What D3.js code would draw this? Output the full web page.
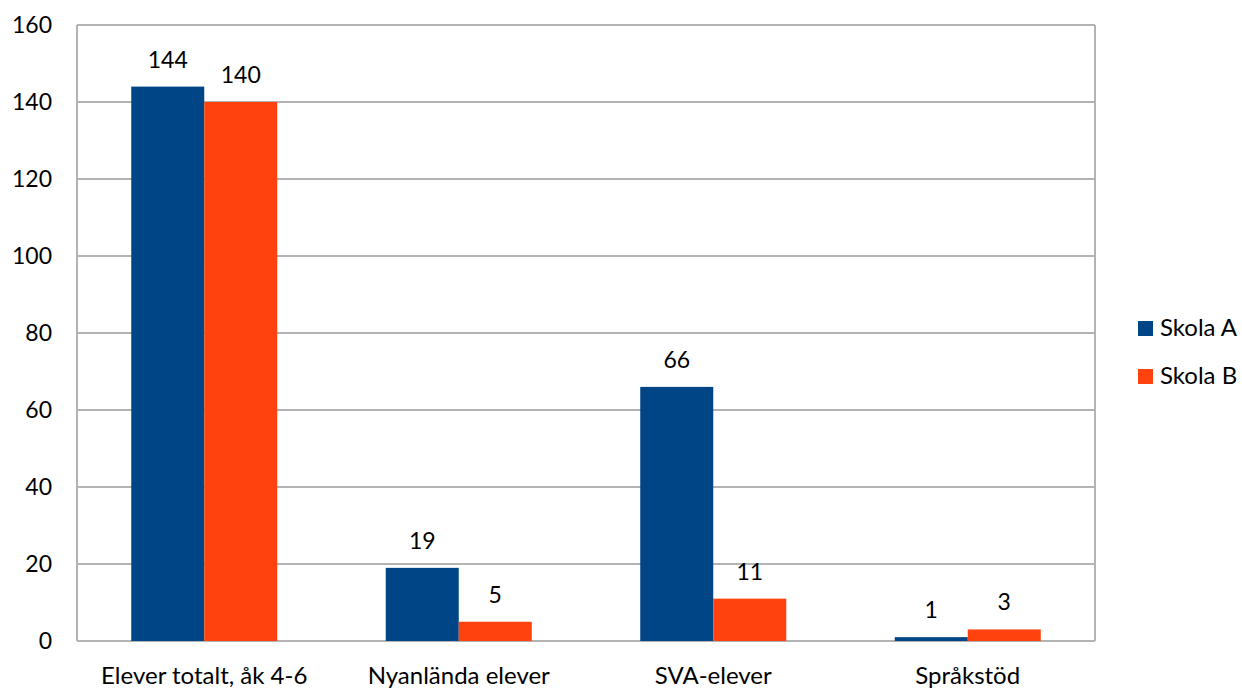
<!DOCTYPE html>
<html>
<head>
<meta charset="utf-8">
<script src="https://cdn.jsdelivr.net/npm/d3@7"></script>
<style>
  body { margin: 0; background: #fff; }
  text { font-family: Lato, "Open Sans", sans-serif; fill: #000; }
</style>
</head>
<body>
<svg id="chart" width="1242" height="688"></svg>
<script>
// Data
const categories = ["Elever totalt, åk 4-6", "Nyanlända elever", "SVA-elever", "Språkstöd"];
const series = ["Skola A", "Skola B"];
const skolaA = [144, 19, 66, 1];
const skolaB = [140, 5, 11, 3];
const yTicks = [0, 20, 40, 60, 80, 100, 120, 140, 160];
const colors = ["#004586", "#ff420e"];

const plot = {left: 77, right: 1095, top: 25, bottom: 641};
const FONT = "24px";
const NUM_FONT = "23px";

const svg = d3.select("#chart");

let x = d3.scaleBand()
    .domain(categories)
    .range([plot.left, plot.right])
    .paddingInner(0)
    .paddingOuter(0);
let xInner = d3.scaleBand()
    .domain(series)
    .range([0, x.bandwidth()])
    .paddingOuter(0.743)
    .paddingInner(0);
let y = d3.scaleLinear()
    .domain([0, 160])
    .range([plot.bottom, plot.top]);

// Gridlines
svg.append("g")
    .selectAll("line")
    .data(yTicks)
    .enter()
    .append("line")
    .attr("x1", plot.left)
    .attr("x2", plot.right)
    .attr("y1", d => y(d))
    .attr("y2", d => y(d))
    .attr("stroke", "#b3b3b3")
    .attr("stroke-width", 2);

// Plot frame sides
svg.append("line")
    .attr("x1", plot.left).attr("x2", plot.left)
    .attr("y1", plot.top).attr("y2", plot.bottom)
    .attr("stroke", "#b3b3b3").attr("stroke-width", 2);
svg.append("line")
    .attr("x1", plot.right).attr("x2", plot.right)
    .attr("y1", plot.top).attr("y2", plot.bottom)
    .attr("stroke", "#b3b3b3").attr("stroke-width", 2);

// Y tick labels
svg.append("g")
    .selectAll("text")
    .data(yTicks)
    .enter()
    .append("text")
    .attr("x", 52)
    .attr("y", d => y(d) + 8)
    .style("text-anchor", "end")
    .style("font-size", NUM_FONT)
    .text(d => d);

// Bars
const rows = categories.map((c, i) => ({cat: c, vals: [skolaA[i], skolaB[i]]}));
let groups = svg.append("g")
    .selectAll("g")
    .data(rows)
    .enter()
    .append("g")
    .attr("transform", d => `translate(${x(d.cat)},0)`);

groups.selectAll("rect")
    .data(d => d.vals.map((v, j) => ({s: series[j], v: v, j: j})))
    .enter()
    .append("rect")
    .attr("x", d => xInner(d.s))
    .attr("y", d => y(d.v))
    .attr("width", xInner.bandwidth())
    .attr("height", d => plot.bottom - y(d.v))
    .attr("fill", d => colors[d.j]);

groups.selectAll("text")
    .data(d => d.vals.map((v, j) => ({s: series[j], v: v})))
    .enter()
    .append("text")
    .attr("x", d => xInner(d.s) + xInner.bandwidth() / 2)
    .attr("y", d => y(d.v) - 19)
    .style("text-anchor", "middle")
    .style("font-size", NUM_FONT)
    .text(d => d.v);

// Category labels
svg.append("g")
    .selectAll("text")
    .data(categories)
    .enter()
    .append("text")
    .attr("x", d => x(d) + x.bandwidth() / 2)
    .attr("y", 684)
    .style("text-anchor", "middle")
    .style("font-size", FONT)
    .text(d => d);

// Legend
let legend = svg.append("g")
    .selectAll("g")
    .data(series)
    .enter()
    .append("g")
    .attr("transform", (d, i) => `translate(1138, ${321 + i * 48})`);
legend.append("rect")
    .attr("width", 15)
    .attr("height", 15)
    .attr("fill", (d, i) => colors[i]);
legend.append("text")
    .attr("x", 22)
    .attr("y", 15)
    .style("font-size", FONT)
    .text(d => d);
</script>
</body>
</html>
